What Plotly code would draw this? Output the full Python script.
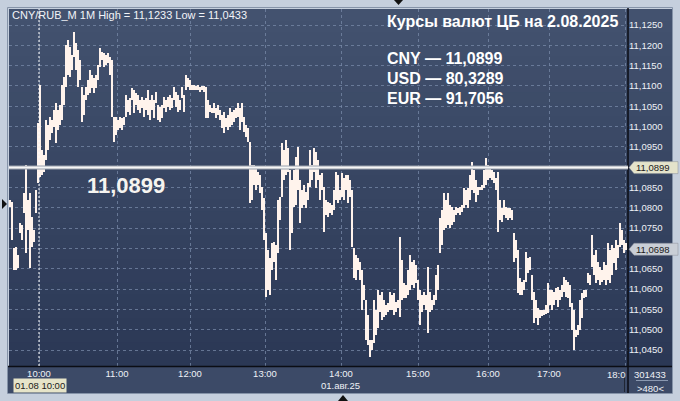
import plotly.graph_objects as go

# ---------------- data (CNY/RUB, 1-minute bars, high / low) ----------------
high = [
    11.0819, 11.0814, 11.0701, 11.0703, 11.0684, 11.0763, 11.0758, 11.0837, 11.0905, 11.0819,
    11.0837, 11.0777, 11.0745, 11.0844, 11.1009, 11.1102, 11.0942, 11.0930, 11.1016, 11.1004,
    11.1024, 11.1016, 11.1041, 11.1058, 11.1041, 11.1053, 11.1102, 11.1122, 11.1201, 11.1213,
    11.1196, 11.1176, 11.1233, 11.1206, 11.1189, 11.1164, 11.1098, 11.1078, 11.1098, 11.1115,
    11.1139, 11.1127, 11.1120, 11.1127, 11.1152, 11.1194, 11.1184, 11.1181, 11.1176, 11.1181,
    11.1171, 11.1164, 11.1024, 11.1024, 11.1016, 11.1024, 11.1021, 11.1024, 11.1078, 11.1066,
    11.1070, 11.1095, 11.1090, 11.1083, 11.1078, 11.1066, 11.1073, 11.1066, 11.1070, 11.1090,
    11.1066, 11.1078, 11.1066, 11.1085, 11.1053, 11.1048, 11.1053, 11.1073, 11.1066, 11.1073,
    11.1078, 11.1070, 11.1098, 11.1085, 11.1078, 11.1066, 11.1098, 11.1078, 11.1127, 11.1120,
    11.1115, 11.1102, 11.1102, 11.1100, 11.1102, 11.1098, 11.1100, 11.1100, 11.1098, 11.1066,
    11.1053, 11.1046, 11.1058, 11.1046, 11.1053, 11.1041, 11.1029, 11.1036, 11.1021, 11.1029,
    11.1046, 11.1036, 11.1041, 11.1046, 11.1058, 11.1046, 11.1058, 11.1024, 11.1004, 11.0997,
    11.0962, 11.0905, 11.0905, 11.0898, 11.0888, 11.0881, 11.0851, 11.0824, 11.0738, 11.0696,
    11.0677, 11.0713, 11.0716, 11.0708, 11.0819, 11.0827, 11.0960, 11.0942, 11.0967, 11.0947,
    11.0893, 11.0869, 11.0893, 11.0925, 11.0950, 11.0869, 11.0844, 11.0856, 11.0839, 11.0861,
    11.0942, 11.0905, 11.0947, 11.0937, 11.0918, 11.0881, 11.0886, 11.0851, 11.0819, 11.0814,
    11.0812, 11.0807, 11.0844, 11.0888, 11.0881, 11.0844, 11.0886, 11.0874, 11.0881, 11.0881,
    11.0869, 11.0844, 11.0701, 11.0684, 11.0677, 11.0667, 11.0647, 11.0610, 11.0573, 11.0536,
    11.0475, 11.0475, 11.0573, 11.0549, 11.0598, 11.0585, 11.0593, 11.0573, 11.0561, 11.0566,
    11.0593, 11.0585, 11.0590, 11.0568, 11.0573, 11.0728, 11.0672, 11.0615, 11.0610, 11.0647,
    11.0684, 11.0667, 11.0672, 11.0659, 11.0622, 11.0598, 11.0585, 11.0593, 11.0585, 11.0654,
    11.0593, 11.0573, 11.0585, 11.0635, 11.0659, 11.0775, 11.0795, 11.0837, 11.0819, 11.0837,
    11.0807, 11.0802, 11.0795, 11.0802, 11.0800, 11.0802, 11.0807, 11.0849, 11.0844, 11.0849,
    11.0881, 11.0913, 11.0893, 11.0869, 11.0851, 11.0851, 11.0856, 11.0893, 11.0923, 11.0905,
    11.0900, 11.0893, 11.0888, 11.0874, 11.0888, 11.0819, 11.0800, 11.0819, 11.0802, 11.0800,
    11.0800, 11.0795, 11.0738, 11.0721, 11.0696, 11.0627, 11.0617, 11.0622, 11.0691, 11.0677,
    11.0679, 11.0635, 11.0593, 11.0573, 11.0553, 11.0549, 11.0549, 11.0549, 11.0561, 11.0615,
    11.0598, 11.0598, 11.0593, 11.0603, 11.0605, 11.0598, 11.0610, 11.0630, 11.0622, 11.0617,
    11.0610, 11.0566, 11.0549, 11.0499, 11.0512, 11.0573, 11.0590, 11.0598, 11.0598, 11.0640,
    11.0635, 11.0733, 11.0684, 11.0696, 11.0667, 11.0654, 11.0647, 11.0667, 11.0659, 11.0713,
    11.0696, 11.0708, 11.0701, 11.0721, 11.0708, 11.0763, 11.0745, 11.0721, 11.0713,
]
low = [
    11.0802, 11.0721, 11.0647, 11.0647, 11.0652, 11.0738, 11.0721, 11.0788, 11.0689, 11.0745,
    11.0652, 11.0703, 11.0716, 11.0788, 11.0862, 11.0876, 11.0881, 11.0888, 11.0918, 11.0942,
    11.0967, 11.0985, 11.0999, 11.0960, 11.0992, 11.1004, 11.1016, 11.1053, 11.1098, 11.1127,
    11.1122, 11.1139, 11.1171, 11.1139, 11.1098, 11.1115, 11.1011, 11.1029, 11.1066, 11.1078,
    11.1083, 11.1095, 11.1083, 11.1095, 11.1115, 11.1147, 11.1164, 11.1147, 11.1152, 11.1157,
    11.1127, 11.1024, 11.0962, 11.0979, 11.0992, 11.0997, 11.0992, 11.1004, 11.1024, 11.1036,
    11.1029, 11.1066, 11.1034, 11.1053, 11.1041, 11.1034, 11.1046, 11.1024, 11.1041, 11.1029,
    11.1016, 11.1041, 11.1021, 11.1058, 11.1016, 11.1011, 11.1021, 11.1046, 11.1036, 11.1048,
    11.1041, 11.1046, 11.1066, 11.1048, 11.1036, 11.1041, 11.1070, 11.1036, 11.1090, 11.1098,
    11.1090, 11.1090, 11.1090, 11.1090, 11.1090, 11.1085, 11.1090, 11.1085, 11.1021, 11.1021,
    11.1036, 11.1034, 11.1034, 11.1021, 11.1029, 11.1016, 11.0997, 11.0985, 11.0999, 11.0992,
    11.0999, 11.1004, 11.1011, 11.1021, 11.1024, 11.0992, 11.1011, 11.0987, 11.0974, 11.0962,
    11.0812, 11.0819, 11.0856, 11.0844, 11.0856, 11.0837, 11.0795, 11.0721, 11.0580, 11.0598,
    11.0585, 11.0647, 11.0667, 11.0622, 11.0689, 11.0770, 11.0827, 11.0869, 11.0881, 11.0888,
    11.0696, 11.0738, 11.0802, 11.0807, 11.0844, 11.0763, 11.0800, 11.0807, 11.0800, 11.0819,
    11.0851, 11.0869, 11.0888, 11.0849, 11.0869, 11.0819, 11.0844, 11.0740, 11.0782, 11.0777,
    11.0788, 11.0782, 11.0795, 11.0819, 11.0812, 11.0819, 11.0827, 11.0819, 11.0844, 11.0812,
    11.0827, 11.0703, 11.0627, 11.0622, 11.0647, 11.0622, 11.0549, 11.0573, 11.0475, 11.0462,
    11.0433, 11.0450, 11.0467, 11.0487, 11.0504, 11.0544, 11.0524, 11.0531, 11.0536, 11.0544,
    11.0549, 11.0549, 11.0536, 11.0544, 11.0553, 11.0531, 11.0573, 11.0578, 11.0578, 11.0585,
    11.0598, 11.0610, 11.0603, 11.0615, 11.0573, 11.0512, 11.0544, 11.0561, 11.0549, 11.0492,
    11.0544, 11.0549, 11.0561, 11.0573, 11.0598, 11.0689, 11.0708, 11.0745, 11.0750, 11.0758,
    11.0750, 11.0758, 11.0765, 11.0782, 11.0788, 11.0782, 11.0790, 11.0800, 11.0807, 11.0800,
    11.0819, 11.0844, 11.0837, 11.0814, 11.0832, 11.0844, 11.0844, 11.0849, 11.0856, 11.0869,
    11.0874, 11.0869, 11.0861, 11.0844, 11.0740, 11.0770, 11.0765, 11.0782, 11.0775, 11.0770,
    11.0775, 11.0770, 11.0667, 11.0677, 11.0590, 11.0585, 11.0585, 11.0598, 11.0617, 11.0640,
    11.0647, 11.0573, 11.0516, 11.0529, 11.0512, 11.0529, 11.0534, 11.0536, 11.0539, 11.0541,
    11.0561, 11.0549, 11.0561, 11.0573, 11.0556, 11.0573, 11.0580, 11.0593, 11.0580, 11.0578,
    11.0556, 11.0499, 11.0450, 11.0482, 11.0487, 11.0499, 11.0529, 11.0578, 11.0580, 11.0615,
    11.0610, 11.0654, 11.0635, 11.0615, 11.0622, 11.0610, 11.0617, 11.0622, 11.0610, 11.0622,
    11.0615, 11.0635, 11.0664, 11.0647, 11.0677, 11.0703, 11.0708, 11.0689, 11.0696,
]
bar_index = list(range(len(high)))

hour_labels = ["10:00", "11:00", "12:00", "13:00", "14:00", "15:00", "16:00", "17:00", ""]
hour_pos = [14.5, 53.5, 90, 127.5, 165.5, 204, 239, 269.5, 307.5]
y_ticks = [11.045, 11.050, 11.055, 11.060, 11.065, 11.070, 11.075, 11.080, 11.085,
           11.090, 11.095, 11.100, 11.105, 11.110, 11.115, 11.120, 11.125]
y_labels = ["11,0450", "11,0500", "11,0550", "11,0600", "11,0650", "", "11,0750", "11,0800",
            "11,0850", "", "11,0950", "11,1000", "11,1050", "11,1100", "11,1150", "11,1200", "11,1250"]
cb_price = 11.0899
last_price = 11.0698
header = "Курсы валют ЦБ на 2.08.2025"
rates = ["CNY — 11,0899", "USD — 80,3289", "EUR — 91,7056"]
info = "CNY/RUB_M 1M High = 11,1233 Low = 11,0433"

# ---------------- geometry helpers (pixel -> paper) ----------------
W, H = 680, 401
L, R, T, B = 9, 628, 9, 366


def px(x):
    return (x - L) / (R - L)


def py(y):
    return (B - y) / (B - T)


FONT = "Liberation Sans, Arial, sans-serif"
FRAME = "#c5cfdd"

fig = go.Figure()
fig.add_trace(go.Bar(
    x=bar_index, base=low, y=[h - l for h, l in zip(high, low)],
    width=0.5, marker=dict(color="#fff3ec", line=dict(width=0)),
    hoverinfo="skip", showlegend=False,
))

shapes = []


def lerp(c1, c2, t):
    a = [int(c1[i:i + 2], 16) for i in (1, 3, 5)]
    b = [int(c2[i:i + 2], 16) for i in (1, 3, 5)]
    return "rgb(%d,%d,%d)" % tuple(round(a[k] + (b[k] - a[k]) * t) for k in range(3))


TOP_C, BOT_C = "#43526f", "#2b3855"
N = 30
for k in range(N):
    y_top = 1 - k / N
    y_bot = 1 - (k + 1) / N
    col = lerp(TOP_C, BOT_C, (k + 0.5) / N)
    shapes.append(dict(type="rect", xref="paper", yref="paper", x0=0, x1=1,
                       y0=y_bot - 0.002, y1=y_top, fillcolor=col, line_width=0, layer="below"))
    shapes.append(dict(type="rect", xref="paper", yref="paper", x0=1, x1=px(672),
                       y0=y_bot - 0.002, y1=y_top, fillcolor=col, line_width=0, layer="below"))

# bottom time panel
shapes.append(dict(type="rect", xref="paper", yref="paper", x0=px(8), x1=px(672),
                   y0=py(393), y1=0, fillcolor="#3c4a67", line_width=0, layer="below"))
# outer border of the chart block
shapes.append(dict(type="rect", xref="paper", yref="paper", x0=px(7.5), x1=px(672.5),
                   y0=py(393.5), y1=py(7.5), line=dict(color="#8593a8", width=1), layer="above"))
# black separators
shapes.append(dict(type="line", xref="paper", yref="paper", x0=px(628), x1=px(628),
                   y0=py(393), y1=py(8), line=dict(color="#0b0d14", width=1.5), layer="above"))
shapes.append(dict(type="line", xref="paper", yref="paper", x0=px(8), x1=px(672),
                   y0=py(366.5), y1=py(366.5), line=dict(color="#0b0d14", width=1.5), layer="above"))
shapes.append(dict(type="line", xref="paper", yref="paper", x0=px(624.5), x1=px(624.5),
                   y0=py(392), y1=py(372), line=dict(color="#202634", width=1), layer="above"))
shapes.append(dict(type="line", xref="paper", yref="paper", x0=px(636), x1=px(668),
                   y0=py(380.5), y1=py(380.5), line=dict(color="#8a98b0", width=1), layer="above"))
# crosshair at 10:00
shapes.append(dict(type="line", xref="x", yref="paper", x0=hour_pos[0], x1=hour_pos[0],
                   y0=0, y1=1, line=dict(color="#ffffff", width=1, dash="2px,2px"), layer="above"))
# CB price line
shapes.append(dict(type="line", xref="paper", yref="y", x0=0, x1=1, y0=cb_price, y1=cb_price,
                   line=dict(color="#9aa1ad", width=4), layer="above"))
shapes.append(dict(type="line", xref="paper", yref="y", x0=0, x1=1, y0=cb_price, y1=cb_price,
                   line=dict(color="#f6f6f6", width=2), layer="above"))
# price boxes on the right axis (arrow shaped)
for val, col in ((cb_price, "#e4e3cb"), (last_price, "#c9ced6")):
    shapes.append(dict(type="path", xref="paper", yref="y", xsizemode="pixel", ysizemode="pixel",
                       xanchor=1, yanchor=val,
                       path="M 1,0 L 6,6 L 50,6 L 50,-6 L 6,-6 Z",
                       fillcolor=col, line=dict(color="#8a8f98", width=0.5), layer="above"))
# frame arrows
shapes.append(dict(type="path", xref="paper", yref="paper",
                   path="M %f,%f L %f,%f L %f,%f Z" % (px(2), py(199), px(7), py(204), px(2), py(209)),
                   fillcolor="#111111", line_width=0, layer="above"))
shapes.append(dict(type="path", xref="paper", yref="paper",
                   path="M %f,%f L %f,%f L %f,%f Z" % (px(394), py(0), px(403), py(0), px(398.5), py(5)),
                   fillcolor="#111111", line_width=0, layer="above"))
shapes.append(dict(type="path", xref="paper", yref="paper",
                   path="M %f,%f L %f,%f L %f,%f Z" % (px(338), py(401), px(348), py(401), px(343), py(395)),
                   fillcolor="#111111", line_width=0, layer="above"))

annotations = []
annotations.append(dict(text=info, xref="paper", yref="paper", x=px(10), y=py(15),
                        xanchor="left", yanchor="middle", showarrow=False,
                        font=dict(family=FONT, size=11, color="#f2f4f8")))
annotations.append(dict(text="<b>%s</b>" % header, xref="paper", yref="paper", x=px(385), y=py(22),
                        xanchor="left", yanchor="middle", showarrow=False,
                        font=dict(family=FONT, size=16, color="#ffffff")))
for txt, yy in zip(rates, (59, 79, 98)):
    annotations.append(dict(text="<b>%s</b>" % txt, xref="paper", yref="paper", x=px(385), y=py(yy),
                            xanchor="left", yanchor="middle", showarrow=False,
                            font=dict(family=FONT, size=16, color="#ffffff")))
annotations.append(dict(text="<b>11,0899</b>", xref="paper", yref="paper", x=px(126), y=py(185),
                        xanchor="center", yanchor="middle", showarrow=False,
                        font=dict(family=FONT, size=22, color="#f6f4f0")))
for val in (cb_price, last_price):
    annotations.append(dict(text=("%.4f" % val).replace(".", ","), xref="paper", yref="y",
                            x=px(634), y=val, xanchor="left", yanchor="middle", showarrow=False,
                            font=dict(family=FONT, size=9.5, color="#1a1a1a")))
annotations.append(dict(text="18:0", xref="paper", yref="paper", x=px(627.5), y=py(375),
                        xanchor="right", yanchor="middle", showarrow=False,
                        font=dict(family=FONT, size=9.5, color="#eef1f6")))
annotations.append(dict(text="01.авг.25", xref="paper", yref="paper", x=px(340), y=py(385),
                        xanchor="center", yanchor="middle", showarrow=False,
                        font=dict(family=FONT, size=9.5, color="#eef1f6")))
annotations.append(dict(text="01.08 10:00", xref="paper", yref="paper", x=px(13), y=py(385),
                        xanchor="left", yanchor="middle", showarrow=False, bgcolor="#e6e4c9",
                        borderpad=1, font=dict(family=FONT, size=9.5, color="#1a1a1a")))
annotations.append(dict(text="301433", xref="paper", yref="paper", x=px(650), y=py(374),
                        xanchor="center", yanchor="middle", showarrow=False,
                        font=dict(family=FONT, size=9.5, color="#eef1f6")))
annotations.append(dict(text=">480<", xref="paper", yref="paper", x=px(650), y=py(388),
                        xanchor="center", yanchor="middle", showarrow=False,
                        font=dict(family=FONT, size=9.5, color="#eef1f6")))

GRID = "rgba(120,138,168,0.75)"
fig.update_layout(
    width=W, height=H,
    margin=dict(l=L, r=W - R, t=T, b=H - B, pad=0),
    paper_bgcolor=FRAME, plot_bgcolor="rgba(0,0,0,0)",
    showlegend=False, bargap=0,
    shapes=shapes, annotations=annotations,
    xaxis=dict(range=[-0.5, 309], tickvals=hour_pos, ticktext=hour_labels,
               showgrid=True, gridcolor=GRID, griddash="3px,3px", gridwidth=1,
               zeroline=False, showline=False, ticks="", fixedrange=True,
               tickfont=dict(family=FONT, size=9.5, color="#eef1f6")),
    yaxis=dict(range=[11.04106, 11.12895], side="right", tickvals=y_ticks, ticktext=y_labels,
               showgrid=True, gridcolor=GRID, griddash="3px,3px", gridwidth=1,
               zeroline=False, showline=False, ticks="", fixedrange=True,
               tickfont=dict(family=FONT, size=9.5, color="#eef1f6")),
)

fig.write_html("out.html", config={"displayModeBar": False},
               post_script="document.body.style.margin='0px';document.body.style.background='%s';" % FRAME)
